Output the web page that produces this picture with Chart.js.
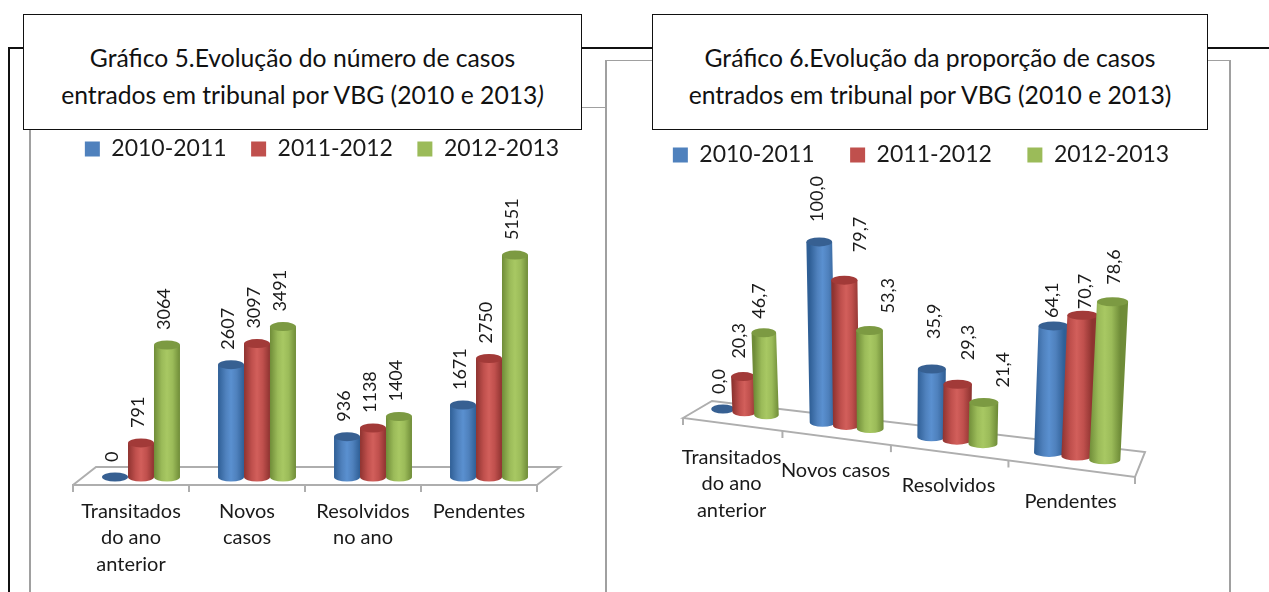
<!DOCTYPE html>
<html lang="pt">
<head>
<meta charset="utf-8">
<title>Gráficos 5 e 6</title>
<script src="https://cdn.jsdelivr.net/npm/chart.js@4"></script>
<style>
  html, body { margin: 0; padding: 0; background: #fff; overflow: hidden; }
  #page { position: relative; width: 1269px; height: 592px; overflow: hidden; font-family: Lato, sans-serif; }
  .line { position: absolute; }
  .black { background: #111; }
  .gray { background: #a0a0a0; }
  canvas { position: absolute; }
  .titleBox {
    position: absolute; top: 14px; height: 114px; box-sizing: content-box;
    border: 1px solid #111; background: #fff; text-align: center;
    font-size: 24.7px; line-height: 37px; color: #111;
    padding: 0; z-index: 5;
  }
  .titleBox div { margin-top: 24px; }
</style>
</head>
<body>
<div id="page">
  <!-- frames behind the charts -->
  <div class="line black" style="left:8px;top:47px;width:2px;height:545px"></div>
  <div class="line black" style="left:8px;top:47px;width:1261px;height:2px"></div>
  <div class="line gray" style="left:29px;top:125px;width:2px;height:467px"></div>
  <div class="line gray" style="left:575px;top:107px;width:31px;height:1px"></div>
  <div class="line gray" style="left:605px;top:60px;width:2px;height:532px"></div>
  <div class="line gray" style="left:605px;top:60px;width:625px;height:1px"></div>
  <div class="line gray" style="left:1229px;top:60px;width:2px;height:532px"></div>

  <div class="titleBox" style="left:23px;width:557px"><div>Gráfico 5.Evolução do número de casos<br>entrados em tribunal por VBG (2010 e 2013<i>)</i></div></div>
  <div class="titleBox" style="left:652px;width:554px"><div>Gráfico 6.Evolução da proporção de casos<br>entrados em tribunal por VBG (2010 e 2013)</div></div>

  <canvas id="chart5" width="564" height="480" style="left:40px;top:113px"></canvas>
  <canvas id="chart6" width="582" height="485" style="left:630px;top:108px"></canvas>
</div>

<script>
// Data
const seriesNames = ['2010-2011', '2011-2012', '2012-2013'];

const categories5 = [['Transitados', 'do ano', 'anterior'], ['Novos', 'casos'], ['Resolvidos', 'no ano'], ['Pendentes']];
const cases2010 = [0, 2607, 936, 1671];
const cases2011 = [791, 3097, 1138, 2750];
const cases2012 = [3064, 3491, 1404, 5151];

const categories6 = [['Transitados', 'do ano', 'anterior'], ['Novos casos'], ['Resolvidos'], ['Pendentes']];
const share2010 = [0.0, 100.0, 35.9, 64.1];
const share2011 = [20.3, 79.7, 29.3, 70.7];
const share2012 = [46.7, 53.3, 21.4, 78.6];

// Office style colours
const fills = ['#4F81BD', '#C0504D', '#9BBB59'];
const lights = ['#5A90D0', '#D25F5B', '#A8C863'];
const edges = ['#2F5F96', '#8E3330', '#6F8C38'];
const tops = ['#376092', '#A23A38', '#7C9A42'];
const floorColor = '#aeaeae';
const labelColor = '#1a1a1a';
const labelFont = '18px Lato';

Chart.defaults.font.family = 'Lato';
Chart.defaults.animation = false;

function cylinder(ctx, xBase, yBase, xTop, yTop, hw, ry, s) {
  if (Math.abs(yBase - yTop) > 1) {
    const g = ctx.createLinearGradient(xBase - hw, 0, xBase + hw, 0);
    g.addColorStop(0, edges[s]);
    g.addColorStop(0.3, fills[s]);
    g.addColorStop(0.5, lights[s]);
    g.addColorStop(0.72, fills[s]);
    g.addColorStop(1, edges[s]);
    ctx.fillStyle = g;
    ctx.beginPath();
    ctx.moveTo(xTop - hw, yTop);
    ctx.lineTo(xBase - hw, yBase);
    ctx.ellipse(xBase, yBase, hw, ry, 0, Math.PI, 0, true);
    ctx.lineTo(xTop + hw, yTop);
    ctx.closePath();
    ctx.fill();
  }
  ctx.fillStyle = tops[s];
  ctx.beginPath();
  ctx.ellipse(xTop, yTop, hw, ry, 0, 0, Math.PI * 2);
  ctx.fill();
}

function verticalLabel(ctx, text, x, y) {
  ctx.save();
  ctx.translate(x, y);
  ctx.rotate(-Math.PI / 2);
  ctx.font = labelFont;
  ctx.fillStyle = labelColor;
  ctx.textAlign = 'left';
  ctx.textBaseline = 'middle';
  ctx.fillText(text, 0, 0);
  ctx.restore();
}

const hideBars = { id: 'hideBars', beforeDatasetDraw() { return false; } };

// invisible side axes keep the plot off the canvas edges, the legend still centres on the canvas
function marginAxis(position, width, extra) {
  return Object.assign({
    position,
    display: true,
    grid: { display: false },
    border: { display: false },
    ticks: { display: false },
    afterFit(scale) { scale.width = width; }
  }, extra);
}

// Chart 5: plain front view with a floor behind the axis
const floor5 = {
  id: 'floor5',
  beforeDatasetsDraw(chart) {
    const { ctx, chartArea: a } = chart;
    ctx.save();
    ctx.strokeStyle = floorColor;
    ctx.lineWidth = 2;
    ctx.beginPath();
    ctx.moveTo(a.left, a.bottom);
    ctx.lineTo(a.left + 23, a.bottom - 18);
    ctx.lineTo(a.right + 23, a.bottom - 18);
    ctx.lineTo(a.right, a.bottom);
    ctx.stroke();
    ctx.restore();
  },
  afterDatasetsDraw(chart) {
    const { ctx } = chart;
    const dx = 10, dy = -8;
    chart.data.datasets.forEach((ds, s) => {
      chart.getDatasetMeta(s).data.forEach((bar, i) => {
        cylinder(ctx, bar.x + dx, bar.base + dy, bar.x + dx, bar.y + dy, bar.width / 2, 4.5, s);
        verticalLabel(ctx, String(ds.data[i]), bar.x + dx - 3, bar.y + dy - 15);
      });
    });
  }
};

// Chart 6: same bars, pushed through the slanted perspective of the floor
const warp = u => 0.84 * u + 0.16 * u * u;
const labelNudge6 = [
  [[-4, 15], [-2, 20], [2, 30], [-1, 8]],
  [[-4, 18], [16, 28], [10, 24], [2, 6]],
  [[-5, 14], [19, 17], [19, 15], [2, 17]]
];

const floor6 = {
  id: 'floor6',
  afterDatasetsDraw(chart) {
    const { ctx, chartArea: a } = chart;
    const w = a.right - a.left;
    const drop = 59;
    const frontX = u => a.left + w * warp(u);
    const frontY = u => a.bottom - drop + drop * warp(u);

    ctx.save();
    ctx.strokeStyle = floorColor;
    ctx.lineWidth = 2;
    ctx.beginPath();
    ctx.moveTo(frontX(0), frontY(0));
    ctx.lineTo(frontX(0) + 29, frontY(0) - 17);
    ctx.lineTo(frontX(1) + 10, frontY(1) - 25);
    ctx.lineTo(frontX(1), frontY(1));
    ctx.closePath();
    ctx.stroke();
    const x = chart.scales.x;
    const n = chart.data.labels.length;
    for (let t = 0; t <= n; t++) {
      const u = t / n;
      ctx.beginPath();
      ctx.moveTo(frontX(u), frontY(u));
      ctx.lineTo(frontX(u), frontY(u) + 7);
      ctx.stroke();
    }
    ctx.restore();

    chart.data.datasets.forEach((ds, s) => {
      chart.getDatasetMeta(s).data.forEach((bar, i) => {
        const uL = (bar.x - bar.width / 2 - a.left) / w;
        const uR = (bar.x + bar.width / 2 - a.left) / w;
        const u = (bar.x - a.left) / w;
        const hw = (frontX(uR) - frontX(uL)) / 2 * 1.08;
        const depthX = 14 - 9 * u;
        const xb = frontX(u) + depthX;
        const yb = frontY(u) - 12.5;
        const h = (bar.base - bar.y) * (0.863 + 0.173 * u);
        const xt = xb + (xb - 270) * h * 0.00024;
        const yt = yb - h;
        cylinder(ctx, xb, yb, xt, yt, hw, 4.5, s);
        const nudge = labelNudge6[s][i];
        verticalLabel(ctx, ds.data[i].toFixed(1).replace('.', ','), xt + nudge[0], yt - nudge[1]);
      });
    });

    // category labels follow the slant, so they are placed here
    ctx.font = '20px Lato';
    ctx.fillStyle = labelColor;
    ctx.textAlign = 'center';
    ctx.textBaseline = 'middle';
    chart.data.labels.forEach((lines, i) => {
      const u = (x.getPixelForTick(i) - a.left) / w;
      lines.forEach((line, l) => ctx.fillText(line, frontX(u), frontY(u) + 33 + l * 26.5));
    });
  }
};

function barDatasets(a, b, c) {
  return [a, b, c].map((data, s) => ({
    label: seriesNames[s],
    data,
    backgroundColor: fills[s],
    categoryPercentage: 0.672,
    barPercentage: 1
  }));
}

function legendOptions(gap) {
  return {
    position: 'top',
    labels: { boxWidth: 15, boxHeight: 15, padding: gap, color: '#1a1a1a', font: { size: 23 } }
  };
}

new Chart(document.getElementById('chart5'), {
  type: 'bar',
  data: { labels: categories5, datasets: barDatasets(cases2010, cases2011, cases2012) },
  options: {
    responsive: false,
    layout: { padding: { bottom: 1 } },
    plugins: { legend: legendOptions(24.5), tooltip: { enabled: false } },
    scales: {
      x: {
        grid: { drawOnChartArea: false, drawTicks: true, tickLength: 7, tickColor: floorColor, lineWidth: 2, offset: true },
        border: { color: floorColor, width: 2 },
        ticks: { color: labelColor, font: { size: 20, lineHeight: 1.325 }, padding: 6, maxRotation: 0, autoSkip: false },
        afterFit(scale) { scale.height = 107; }
      },
      y: marginAxis('left', 33, { min: 0, max: 7300 }),
      margin: marginAxis('right', 67)
    }
  },
  plugins: [hideBars, floor5]
});

new Chart(document.getElementById('chart6'), {
  type: 'bar',
  data: { labels: categories6, datasets: barDatasets(share2010, share2011, share2012) },
  options: {
    responsive: false,
    layout: { padding: { bottom: 116 } },
    plugins: { legend: legendOptions(35.5), tooltip: { enabled: false } },
    scales: {
      x: { display: false },
      y: marginAxis('left', 53, { min: 0, max: 153 }),
      margin: marginAxis('right', 77)
    }
  },
  plugins: [hideBars, floor6]
});
</script>
</body>
</html>
